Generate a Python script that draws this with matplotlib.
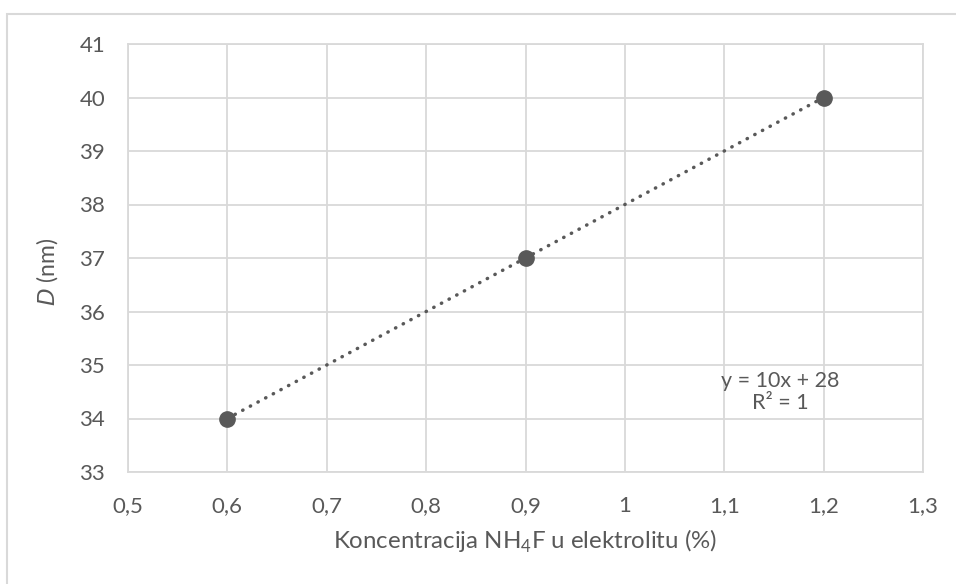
import matplotlib
matplotlib.use("Agg")
import matplotlib.pyplot as plt
import numpy as np
from matplotlib.patches import Rectangle

concentration = [0.6, 0.9, 1.2]
diameter = [34, 37, 40]
x_ticks = [0.5, 0.6, 0.7, 0.8, 0.9, 1.0, 1.1, 1.2, 1.3]
x_tick_labels = ["0,5", "0,6", "0,7", "0,8", "0,9", "1", "1,1", "1,2", "1,3"]
y_ticks = [33, 34, 35, 36, 37, 38, 39, 40, 41]

plt.rcParams['font.family'] = ['Lato', 'DejaVu Sans']
text_color = '#595959'
grid_color = '#d9d9d9'

fig = plt.figure(figsize=(9.56, 5.84), dpi=100)
fig.patches.append(Rectangle((7/956, -0.1), 1.2, (584-14)/584 + 0.1, transform=fig.transFigure,
                             fill=False, edgecolor=grid_color, linewidth=1.5, zorder=0))
ax = fig.add_axes([128/956, (584-472)/584, (923-128)/956, (472-44)/584])

# trendline
slope, intercept = np.polyfit(concentration, diameter, 1)
xt = np.array([min(concentration), max(concentration)])
ax.plot(xt, slope*xt + intercept, linestyle=(0, (0.1, 2.4)), color=text_color,
        linewidth=2.5, dash_capstyle='round', zorder=2)
ax.plot(concentration, diameter, 'o', color=text_color, markersize=11, zorder=3)

ax.set_xlim(0.5, 1.3)
ax.set_ylim(33, 41)
ax.set_xticks(x_ticks)
ax.set_xticklabels(x_tick_labels)
ax.set_yticks(y_ticks)
ax.grid(True, color=grid_color, linewidth=1.3, zorder=0)
ax.set_axisbelow(True)
for s in ax.spines.values():
    s.set_color(grid_color)
    s.set_linewidth(1.3)
ax.tick_params(length=0, labelsize=16, colors=text_color)
ax.tick_params(axis='x', pad=17)
ax.tick_params(axis='y', pad=16.5)

ax.set_xlabel(r"Koncentracija NH$_\mathregular{4}$F u elektrolitu (%)", fontsize=17.3,
              color=text_color, labelpad=9)
ax.set_ylabel(r"$\mathit{D}$ (nm)", fontsize=16.5, color=text_color, labelpad=12)
ax.yaxis.set_label_coords(-0.085, 0.467)

ax.text(1.156, 34.70, "y = 10x + 28", ha='center', va='center', fontsize=15.5, color=text_color)
ax.text(1.156, 34.29, "R² = 1", ha='center', va='center', fontsize=15.5, color=text_color)

fig.savefig("out.png", dpi=100)
